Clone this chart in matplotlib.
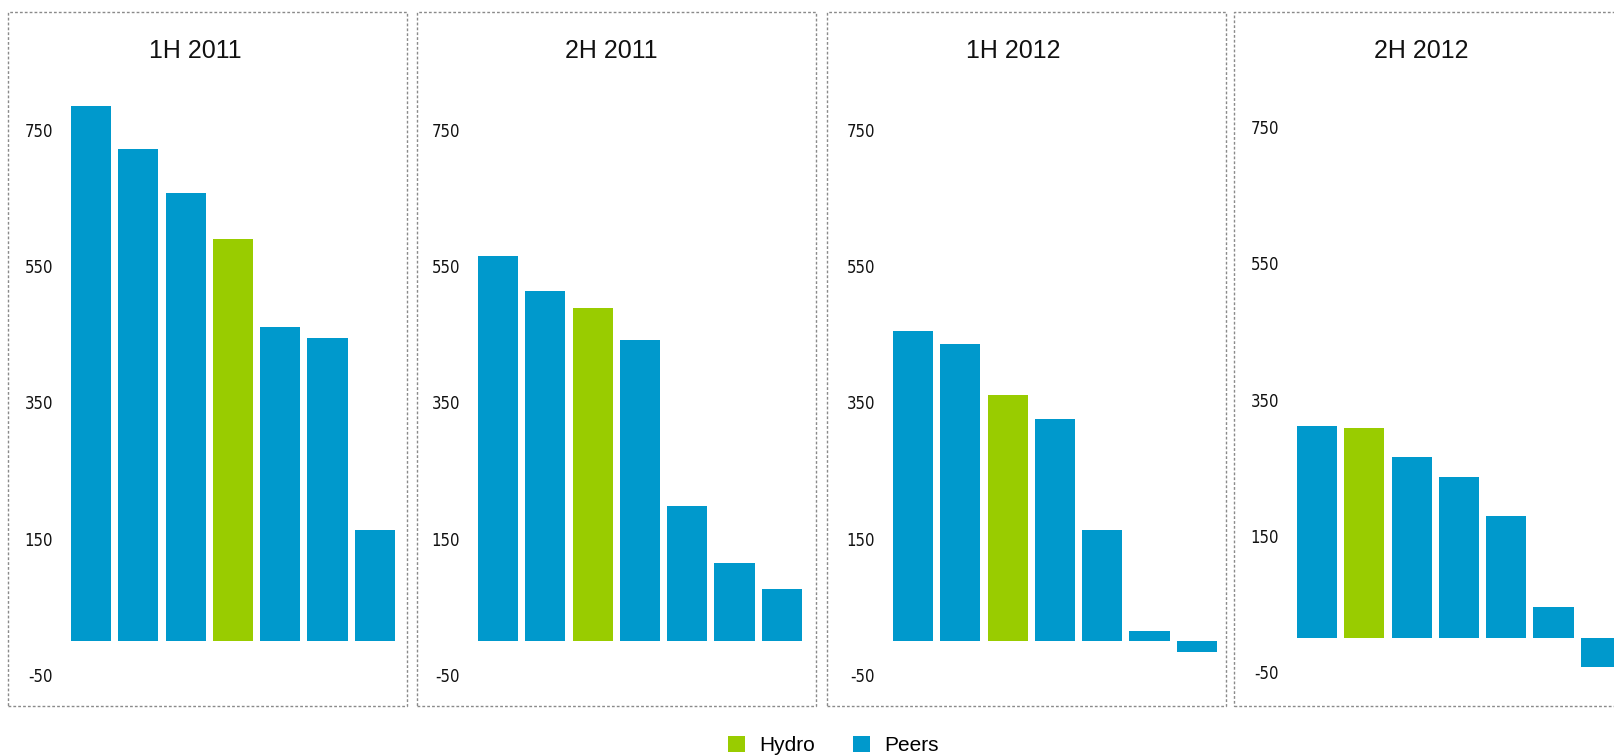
import matplotlib
matplotlib.use("Agg")
import matplotlib.pyplot as plt
from matplotlib.patches import Rectangle, Patch

# Half-year periods and the ranked values in each (Hydro highlighted)
periods = ["1H 2011", "2H 2011", "1H 2012", "2H 2012"]
values_1h2011 = [785, 722, 657, 590, 460, 444, 163]
values_2h2011 = [565, 513, 488, 441, 198, 114, 76]
values_1h2012 = [454, 435, 361, 325, 163, 15, -16]
values_2h2012 = [312, 309, 266, 236, 179, 46, -42]
hydro_index = [3, 2, 2, 1]
yticks = [-50, 150, 350, 550, 750]
legend_labels = ["Hydro", "Peers"]

series = [values_1h2011, values_2h2011, values_1h2012, values_2h2012]

HYDRO = "#99CC00"
PEERS = "#0099CC"

W, H = 1614, 756
fig = plt.figure(figsize=(W / 100, H / 100), dpi=100)

# layout in pixels
first_bar_x = [91, 498, 913, 1317]
bar_step = 47.3
zero_y = [640.8, 640.8, 640.8, 638.1]
px_per_unit = 0.6814
ylo, yhi = -100, 830
box_left = [8, 417, 827.3, 1234.3]
box_w = 399
box_top, box_bot = 12.4, 706.3
title_x = [195, 611, 1013.5, 1421]
title_y = 51.5

for i, vals in enumerate(series):
    left_px = first_bar_x[i] - 0.6 * bar_step
    width_px = 7.2 * bar_step
    top_px = zero_y[i] - yhi * px_per_unit
    bot_px = zero_y[i] - ylo * px_per_unit
    ax = fig.add_axes([left_px / W, 1 - bot_px / H, width_px / W, (bot_px - top_px) / H])
    colors = [HYDRO if k == hydro_index[i] else PEERS for k in range(len(vals))]
    ax.bar(range(len(vals)), vals, width=0.846, color=colors)
    ax.set_xlim(-0.6, 6.6)
    ax.set_ylim(ylo, yhi)
    ax.set_yticks(yticks)
    ax.set_yticklabels([str(t) for t in yticks], family="DejaVu Sans",
                       fontstretch="condensed", fontsize=12)
    ax.tick_params(axis="y", length=0, pad=7, colors="#111111")
    ax.set_xticks([])
    for s in ax.spines.values():
        s.set_visible(False)
    ax.patch.set_visible(False)

    # dashed frame around each panel
    fig.patches.append(Rectangle((box_left[i] / W, 1 - box_bot / H), box_w / W,
                                 (box_bot - box_top) / H, transform=fig.transFigure,
                                 fill=False, edgecolor="#8a8a8a", linewidth=1,
                                 linestyle=(0, (2, 1.5))))
    fig.text(title_x[i] / W, 1 - title_y / H, periods[i], ha="center", va="center",
             fontsize=18, family="Liberation Sans", color="#111111")

handles = [Patch(facecolor=HYDRO), Patch(facecolor=PEERS)]
fig.legend(handles, legend_labels, loc="lower center", bbox_to_anchor=(833.5 / W, 0.001),
           ncol=2, frameon=False, prop={"family": "Liberation Sans", "size": 15},
           handlelength=0.82, handleheight=0.82, handletextpad=0.67,
           columnspacing=1.83, borderpad=0, borderaxespad=0)

fig.savefig("out.png", dpi=100)
